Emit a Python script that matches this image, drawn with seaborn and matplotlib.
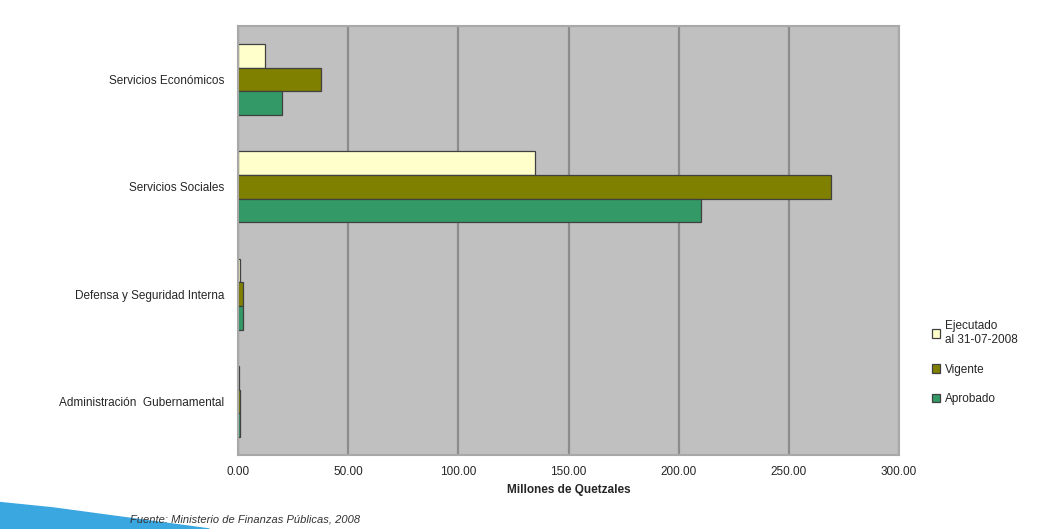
import pandas as pd
import matplotlib.pyplot as plt
import seaborn as sns
from matplotlib.patches import Polygon

categorias = ["Servicios Económicos", "Servicios Sociales",
              "Defensa y Seguridad Interna", "Administración  Gubernamental"]
series = ["Ejecutado\nal 31-07-2008", "Vigente", "Aprobado"]
ejecutado = [12.2, 134.7, 1.0, 0.3]
vigente = [37.6, 269.2, 2.5, 1.0]
aprobado = [20.0, 210.0, 2.5, 1.0]
colores = ["#FFFFCC", "#808000", "#339966"]
xticks = [0, 50, 100, 150, 200, 250, 300]

df = pd.DataFrame({
    "categoria": categorias * 3,
    "serie": [series[0]] * 4 + [series[1]] * 4 + [series[2]] * 4,
    "valor": ejecutado + vigente + aprobado,
})

sns.set_style("white")
plt.rcParams["font.family"] = ["Liberation Sans", "DejaVu Sans"]

fig = plt.figure(figsize=(10.47, 5.29), dpi=100)
ax = fig.add_axes([0.2273, 0.1399, 0.6314, 0.811])
ax.set_facecolor("#C0C0C0")

sns.barplot(data=df, x="valor", y="categoria", hue="serie", orient="h",
            order=categorias, hue_order=series, palette=colores,
            saturation=1, width=0.66, edgecolor="#404040", linewidth=0.9,
            ax=ax)

ax.set_xlim(0, 300)
ax.set_xticks(xticks)
ax.set_xticklabels([f"{v:.2f}" for v in xticks], fontsize=8.5)
ax.xaxis.grid(True, color="#8C8C8C", linewidth=1.6)
ax.set_axisbelow(True)
ax.set_xlabel("Millones de Quetzales", fontsize=8.5, fontweight="bold")
ax.set_ylabel("")
ax.tick_params(axis="y", length=0, labelsize=8.5, pad=10)
ax.tick_params(axis="x", length=0, pad=8)
ax.set_yticks([-0.5, 0.5, 1.5, 2.5, 3.5], minor=True)
ax.tick_params(axis="y", which="minor", length=4, color="#808080")
for s in ax.spines.values():
    s.set_color("#A8A8A8")
    s.set_linewidth(1.5)

ax.legend(loc="center left", bbox_to_anchor=(1.05, 0.215), frameon=False,
          fontsize=8.5, handlelength=0.7, handleheight=0.7, labelspacing=1.5,
          handletextpad=0.4, borderaxespad=0, borderpad=0)

fig.text(0.124, 0.012, "Fuente: Ministerio de Finanzas Públicas, 2008",
         fontsize=8, style="italic", color="#333333")
fig.patches.append(Polygon([[0, 0], [0, 0.05], [0.05, 0.04], [0.2, 0]],
                           closed=True, transform=fig.transFigure,
                           color="#3BA7E0", zorder=0))

plt.savefig("out.png", dpi=100)
